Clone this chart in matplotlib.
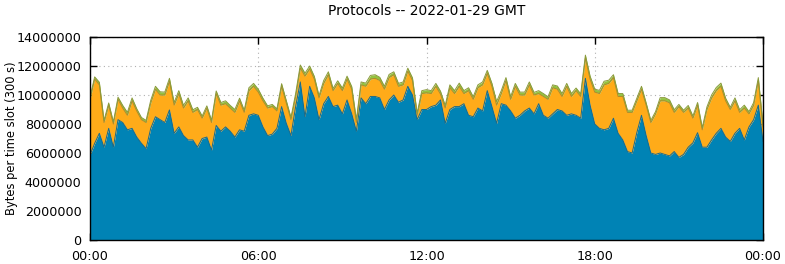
import numpy as np
import matplotlib
matplotlib.use("Agg")
import matplotlib.pyplot as plt

# values in millions of bytes per 5-min slot, sampled every 10 minutes from 00:00 to 24:00
blue = [5.86, 6.67, 7.36, 6.4, 7.7, 6.4, 8.3, 8.1, 7.6, 7.7, 7.1, 6.67, 6.3, 7.7, 8.5, 8.3, 8.1, 8.97,
        7.36, 7.8, 7.2, 6.9, 6.9, 6.4, 7.0, 7.1, 6.2, 7.9, 7.5, 7.8, 7.5, 7.1, 7.6, 7.5, 8.6, 8.7,
        8.6, 7.8, 7.2, 7.3, 7.7, 9.2, 8.05, 7.2, 9.2, 10.9, 8.5, 10.6, 9.8, 8.3, 9.4, 9.9, 9.2, 9.3,
        8.7, 9.66, 8.7, 7.5, 9.8, 9.4, 9.9, 9.9, 9.8, 9.0, 9.66, 10.0, 9.5, 9.66, 10.6, 10.0, 8.3, 9.0,
        9.0, 9.2, 9.3, 9.66, 8.05, 9.0, 9.2, 9.2, 9.4, 8.6, 8.5, 9.1, 8.9, 10.3, 9.2, 8.05, 9.4, 9.3,
        8.9, 8.4, 8.6, 8.9, 9.1, 8.7, 9.4, 8.6, 8.4, 8.7, 9.0, 8.9, 8.6, 8.7, 8.6, 8.4, 11.15, 9.3,
        8.0, 7.7, 7.6, 7.7, 8.4, 7.36, 6.9, 6.1, 6.0, 7.4, 8.6, 7.2, 6.0, 5.9, 6.0, 5.9, 5.8, 6.1,
        5.7, 5.9, 6.4, 6.7, 7.4, 6.4, 6.4, 6.9, 7.36, 7.7, 7.1, 6.8, 7.36, 7.7, 6.9, 7.8, 8.3, 9.3, 6.8]

orange = [3.84, 4.43, 3.34, 1.70, 1.60, 1.60, 1.40, 1.00, 1.00, 1.90, 1.80, 1.63, 1.80, 1.76, 1.90, 1.70, 1.90, 1.98,
          1.94, 2.30, 1.90, 2.70, 1.90, 2.60, 1.40, 2.00, 1.90, 2.20, 1.80, 1.60, 1.60, 1.70, 2.00, 1.30, 1.70, 1.90,
          1.60, 1.80, 1.90, 1.90, 1.20, 1.40, 1.41, 1.10, 0.70, 0.97, 2.80, 1.20, 1.30, 1.50, 1.40, 1.50, 1.10, 1.50,
          1.60, 1.44, 1.70, 0.60, 0.90, 1.20, 1.20, 1.25, 1.20, 1.40, 1.54, 1.40, 1.10, 1.04, 1.05, 1.00, 0.30, 1.10,
          1.15, 0.90, 1.30, 0.40, 1.05, 1.50, 0.90, 1.40, 0.70, 1.70, 1.20, 1.40, 1.80, 1.20, 1.40, 1.25, 0.70, 1.70,
          0.80, 2.20, 1.40, 1.10, 1.60, 1.30, 0.70, 1.30, 1.30, 1.80, 1.40, 1.00, 2.00, 1.20, 1.70, 1.50, 1.40, 1.80,
          2.20, 2.40, 3.10, 3.10, 2.80, 2.54, 3.00, 2.70, 2.80, 2.20, 1.80, 2.10, 2.10, 2.80, 3.60, 3.70, 3.66, 2.70,
          3.50, 2.90, 2.70, 1.70, 1.90, 1.20, 2.60, 2.90, 2.94, 2.90, 2.50, 2.20, 2.24, 1.10, 2.20, 0.90, 1.00, 1.70, 1.00]

green = [0.15, 0.15, 0.18, 0.15, 0.15, 0.15, 0.15, 0.18, 0.2, 0.2, 0.15, 0.15, 0.15, 0.18, 0.2, 0.22, 0.2, 0.2,
         0.18, 0.2, 0.18, 0.2, 0.18, 0.15, 0.15, 0.15, 0.15, 0.18, 0.18, 0.2, 0.18, 0.2, 0.18, 0.15, 0.2, 0.2,
         0.2, 0.18, 0.15, 0.15, 0.15, 0.18, 0.15, 0.15, 0.2, 0.2, 0.2, 0.2, 0.18, 0.15, 0.2, 0.2, 0.15, 0.18,
         0.18, 0.2, 0.18, 0.2, 0.2, 0.22, 0.25, 0.25, 0.22, 0.2, 0.22, 0.2, 0.2, 0.2, 0.2, 0.18, 0.15, 0.2,
         0.22, 0.2, 0.2, 0.2, 0.18, 0.2, 0.2, 0.22, 0.2, 0.2, 0.18, 0.2, 0.2, 0.2, 0.2, 0.25, 0.2, 0.2,
         0.18, 0.2, 0.2, 0.2, 0.2, 0.18, 0.2, 0.2, 0.18, 0.2, 0.22, 0.2, 0.2, 0.2, 0.18, 0.18, 0.2, 0.2,
         0.2, 0.22, 0.25, 0.22, 0.2, 0.2, 0.2, 0.15, 0.15, 0.18, 0.2, 0.15, 0.15, 0.15, 0.22, 0.22, 0.2, 0.18,
         0.15, 0.15, 0.18, 0.15, 0.18, 0.15, 0.18, 0.2, 0.22, 0.22, 0.18, 0.15, 0.2, 0.18, 0.2, 0.15, 0.18, 0.2, 0.15]

hours = np.linspace(0, 24, len(blue))
xtick_pos = [0, 6, 12, 18, 24]
xtick_labels = ["00:00", "06:00", "12:00", "18:00", "00:00"]
ytick_vals = [0, 2000000, 4000000, 6000000, 8000000, 10000000, 12000000, 14000000]

scale = 1e6
b = np.array(blue) * scale
o = np.array(orange) * scale
g = np.array(green) * scale

fig = plt.figure(figsize=(7.85, 2.64), dpi=100)
ax = fig.add_axes([90/785, 24/264, 673/785, 203/264])

c_blue, c_orange, c_green = "#0083b5", "#ffab19", "#92c440"
ax.fill_between(hours, 0, b, color=c_blue, lw=0, zorder=2)
ax.fill_between(hours, b, b + o, color=c_orange, lw=0, zorder=2)
ax.fill_between(hours, b + o, b + o + g, color=c_green, lw=0, zorder=2)
ax.plot(hours, b, color="#1a6a8a", lw=0.7, zorder=3)
ax.plot(hours, b + o, color="#b08a2a", lw=0.7, zorder=3)
ax.plot(hours, b + o + g, color="#8a9a3a", lw=0.7, zorder=3)

ax.set_xlim(0, 24)
ax.set_ylim(0, 14000000)
ax.set_xticks(xtick_pos)
ax.set_xticklabels(xtick_labels)
ax.set_yticks(ytick_vals)
ax.set_yticklabels([str(v) for v in ytick_vals])
ax.tick_params(direction="in", length=5, width=1, top=True, right=True,
               labelsize=9.2, pad=6, colors="black")
ax.tick_params(axis="x", pad=7)
ax.grid(True, color="#b0b0b0", linestyle=(0, (1, 3)), linewidth=0.8, zorder=1)
ax.set_axisbelow(True)
for s in ax.spines.values():
    s.set_linewidth(1.0)
    s.set_color("black")
    s.set_zorder(5)

fig.text(12/785, 1 - 138/264, "Bytes per time slot (300 s)", rotation=90,
         ha="center", va="center", fontsize=8.3)
fig.text(426.5/785, 1 - 11/264, "Protocols -- 2022-01-29 GMT", ha="center", va="center", fontsize=10)

fig.savefig("out.png", dpi=100)
